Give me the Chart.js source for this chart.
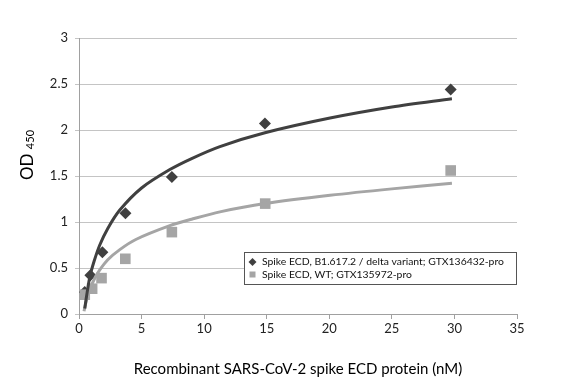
<!DOCTYPE html>
<html lang="en">
<head>
<meta charset="UTF-8">
<title>OD450 vs spike ECD</title>
<script src="https://cdn.jsdelivr.net/npm/chart.js"></script>
<style>
  html, body { margin: 0; padding: 0; background: #fff; }
  #wrap { width: 582px; height: 382px; position: relative; }
</style>
</head>
<body>
<div id="wrap"><canvas id="myChart"></canvas></div>
<script>
// measured points (nM, OD450)
var deltaNames = 'Spike ECD, B1.617.2 / delta variant; GTX136432-pro';
var deltaX = [0.46, 0.91, 1.87, 3.71, 7.42, 14.86, 29.7];
var deltaY = [0.24, 0.42, 0.67, 1.095, 1.49, 2.07, 2.44];

var wtName = 'Spike ECD, WT; GTX135972-pro';
var wtX = [0.46, 1.05, 1.8, 3.7, 7.42, 14.88, 29.7];
var wtY = [0.21, 0.275, 0.39, 0.60, 0.89, 1.20, 1.56];

// trendlines
var deltaTrendX = [0.46, 0.6, 0.86, 1.2, 1.66, 2.3, 3.26, 5, 7.26, 9, 11.26, 14.86, 20.06, 25, 29.8];
var deltaTrendY = [0.06, 0.19, 0.40, 0.57, 0.75, 0.93, 1.13, 1.37, 1.57, 1.69, 1.82, 1.97, 2.13, 2.25, 2.34];

var wtTrendX = [0.4, 0.6, 0.93, 1.3, 1.66, 2.3, 3.26, 4.54, 7.26, 9, 11.26, 14.86, 20.06, 25, 29.8];
var wtTrendY = [0.03, 0.15, 0.29, 0.40, 0.48, 0.59, 0.70, 0.81, 0.96, 1.03, 1.11, 1.20, 1.29, 1.36, 1.42];

var xTicks = [0, 5, 10, 15, 20, 25, 30, 35];
var yTicks = [0, 0.5, 1, 1.5, 2, 2.5, 3];

var darkCol = '#404040';
var grayCol = '#a5a5a5';
var fontFam = 'Lato, "Open Sans", sans-serif';

function pts(xs, ys) {
    var out = [];
    for (var i = 0; i < xs.length; i++) out.push({ x: xs[i], y: ys[i] });
    return out;
}

// y title with subscript + legend box inside the plot
var extras = {
    id: 'extras',
    afterDraw: function (chart) {
        var ctx = chart.ctx;
        var area = chart.chartArea;
        ctx.save();
        // y axis title "OD 450"
        ctx.translate(33, (area.top + area.bottom) / 2 - 21);
        ctx.rotate(-Math.PI / 2);
        ctx.fillStyle = '#000';
        ctx.textBaseline = 'alphabetic';
        ctx.font = '17px ' + fontFam;
        var w1 = ctx.measureText('OD ').width;
        ctx.font = '11px ' + fontFam;
        var w2 = ctx.measureText('450').width;
        var sx = -(w1 + w2) / 2;
        ctx.font = '17px ' + fontFam;
        ctx.fillText('OD ', sx, 0);
        ctx.font = '11px ' + fontFam;
        ctx.fillText('450', sx + w1, 1);
        ctx.restore();

        // legend
        ctx.save();
        var lx = 244.5, ly = 252.5, lw = 272, lh = 32;
        ctx.fillStyle = '#fff';
        ctx.fillRect(lx, ly, lw, lh);
        ctx.strokeStyle = '#555';
        ctx.lineWidth = 1;
        ctx.strokeRect(lx, ly, lw, lh);
        ctx.font = '10.4px ' + fontFam;
        ctx.textBaseline = 'middle';
        var rows = [
            { t: deltaNames, s: 'd', c: darkCol, y: 262 },
            { t: wtName, s: 's', c: grayCol, y: 274.5 }
        ];
        rows.forEach(function (r) {
            ctx.fillStyle = r.c;
            if (r.s == 'd') {
                ctx.beginPath();
                ctx.moveTo(252.5, r.y - 4);
                ctx.lineTo(256.5, r.y);
                ctx.lineTo(252.5, r.y + 4);
                ctx.lineTo(248.5, r.y);
                ctx.closePath();
                ctx.fill();
            } else {
                ctx.fillRect(249.5, r.y - 3, 6, 6);
            }
            ctx.fillStyle = '#111';
            ctx.fillText(r.t, 262, r.y);
        });
        ctx.restore();
    }
};

const config = {
    type: 'scatter',
    data: {
        datasets: [
            {
                label: 'delta trend',
                type: 'line',
                data: pts(deltaTrendX, deltaTrendY),
                borderColor: darkCol,
                borderWidth: 3,
                pointRadius: 0,
                tension: 0.3,
                fill: false,
                order: 1
            },
            {
                label: 'wt trend',
                type: 'line',
                data: pts(wtTrendX, wtTrendY),
                borderColor: grayCol,
                borderWidth: 3,
                pointRadius: 0,
                tension: 0.3,
                fill: false,
                order: 2
            },
            {
                label: wtName,
                data: pts(wtX, wtY),
                pointStyle: 'rect',
                pointRadius: 7.5,
                backgroundColor: grayCol,
                borderColor: grayCol,
                borderWidth: 0,
                order: 3
            },
            {
                label: deltaNames,
                data: pts(deltaX, deltaY),
                pointStyle: 'rectRot',
                pointRadius: 6,
                backgroundColor: darkCol,
                borderColor: darkCol,
                borderWidth: 0,
                order: 4
            }
        ]
    },
    options: {
        responsive: true,
        maintainAspectRatio: false,
        animation: false,
        layout: { padding: { left: 0, top: 38, right: 65, bottom: 0 } },
        plugins: {
            legend: { display: false },
            tooltip: { enabled: false }
        },
        scales: {
            x: {
                type: 'linear',
                min: 0,
                max: 35,
                afterBuildTicks: function (s) { s.ticks = xTicks.map(function (v) { return { value: v }; }); },
                afterFit: function (s) { s.height = 68; },
                grid: { drawOnChartArea: false, drawTicks: true, tickLength: 5, color: '#a0a0a0' },
                border: { color: '#a0a0a0' },
                ticks: { color: '#222', padding: 2, font: { family: fontFam, size: 13 } },
                title: {
                    display: true,
                    text: 'Recombinant SARS-CoV-2 spike ECD protein (nM)',
                    color: '#000',
                    font: { family: fontFam, size: 15 },
                    padding: { top: 14 }
                }
            },
            y: {
                min: 0,
                max: 3,
                afterBuildTicks: function (s) { s.ticks = yTicks.map(function (v) { return { value: v }; }); },
                afterFit: function (s) { s.width = 79; },
                grid: { color: '#c4c4c4', tickLength: 4 },
                border: { color: '#a0a0a0' },
                ticks: {
                    color: '#222',
                    padding: 7,
                    font: { family: fontFam, size: 13 },
                    callback: function (v) { return String(v); }
                }
            }
        }
    },
    plugins: [extras]
};

let myChart = new Chart(document.getElementById('myChart'), config);
</script>
</body>
</html>
